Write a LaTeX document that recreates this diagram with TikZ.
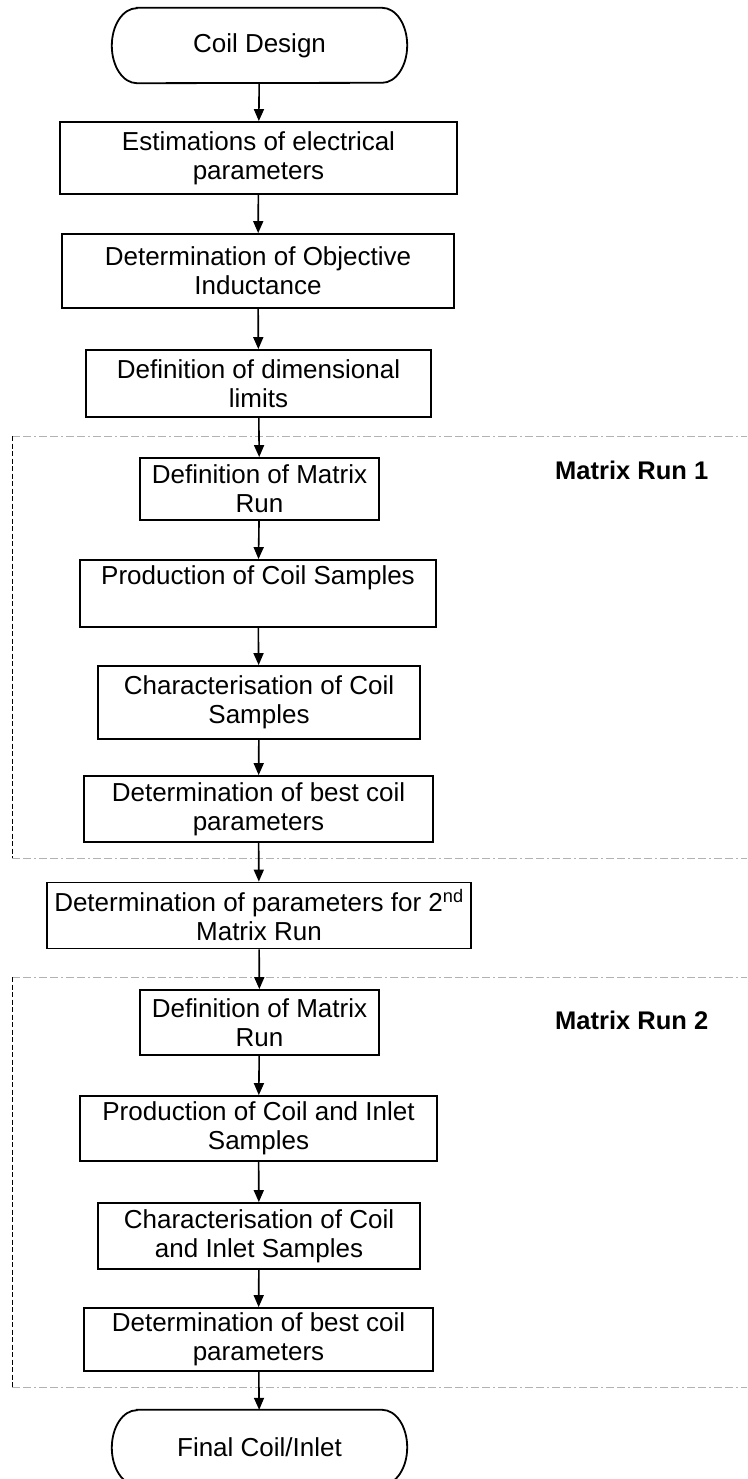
\documentclass[tikz,border=0pt]{standalone}
\usepackage{fontspec}
\setmainfont{Liberation Sans}
\usetikzlibrary{arrows.meta}
\tikzset{
  boxnode/.style={draw, line width=1.8pt, inner sep=0pt, align=center,
    font=\fontsize{26}{29}\selectfont},
  termnode/.style={inner sep=0pt, align=center, minimum width=295pt, minimum height=75pt,
    font=\fontsize{26}{29}\selectfont},
  termline/.style={line width=1.8pt},
  flow/.style={line width=1.6pt, -{Triangle[length=12pt,width=10pt]}},
  regionedge/.style={draw=black!30, line width=1pt, dash pattern=on 8pt off 3pt on 8pt off 3pt on 2pt off 3pt},
  regionside/.style={draw=black, line width=1pt, dash pattern=on 5pt off 2.5pt},
  runlabel/.style={anchor=west, inner sep=0pt, font=\fontsize{25.5}{29}\selectfont\bfseries}
}
\newcommand{\termshape}[1]{%
  \draw[termline] ([xshift=25pt]#1.north west) -- ([xshift=-25pt]#1.north east)
    arc[start angle=90, end angle=-90, x radius=25pt, y radius=37.5pt]
    -- ([xshift=25pt]#1.south west)
    arc[start angle=270, end angle=90, x radius=25pt, y radius=37.5pt] -- cycle;}
\begin{document}
\begin{tikzpicture}[x=1pt, y=-1pt]
\useasboundingbox (0,0) rectangle (747,1479);
\clip (0,0) rectangle (747,1479);

% regions
\coordinate (r1tl) at (12,436);
\coordinate (r1tr) at (747,436);
\coordinate (r1bl) at (12,858);
\coordinate (r1br) at (747,858);
\coordinate (r2tl) at (12,977);
\coordinate (r2tr) at (747,977);
\coordinate (r2bl) at (12,1387);
\coordinate (r2br) at (747,1387);
\draw[regionedge] (r1tl) -- (r1tr);
\draw[regionedge] (r1bl) -- (r1br);
\draw[regionside] (r1tl) -- (r1bl);
\draw[regionedge] (r2tl) -- (r2tr);
\draw[regionedge] (r2bl) -- (r2br);
\draw[regionside] (r2tl) -- (r2bl);

\node[runlabel] (lab1) at (555,470.5) {Matrix Run 1};
\node[runlabel] (lab2) at (555,1020) {Matrix Run 2};

% nodes
\node[termnode] (t1) at (259.5,45.5) {Coil Design};
\termshape{t1}
\node[boxnode, minimum width=397pt, minimum height=72pt] (b1) at (258.5,158) {Estimations of electrical\\parameters};
\node[boxnode, minimum width=392pt, minimum height=74pt] (b2) at (258,271) {Determination of Objective\\Inductance};
\node[boxnode, minimum width=345pt, minimum height=67pt] (b3) at (258.5,383.5) {Definition of dimensional\\limits};
\node[boxnode, minimum width=239pt, minimum height=62pt] (b4) at (259.5,489) {Definition of Matrix\\Run};
\node[boxnode, minimum width=356pt, minimum height=67pt] (b5) at (258,593.5) {Production of Coil Samples\\\strut};
\node[boxnode, minimum width=322pt, minimum height=73pt] (b6) at (259,702.5) {Characterisation of Coil\\Samples};
\node[boxnode, minimum width=349pt, minimum height=66pt] (b7) at (258.5,809) {Determination of best coil\\parameters};
\node[boxnode, minimum width=424pt, minimum height=66pt] (b8) at (259,915.5) {Determination of parameters for 2\textsuperscript{nd}\\Matrix Run};
\node[boxnode, minimum width=239pt, minimum height=65pt] (b9) at (259.5,1022.5) {Definition of Matrix\\Run};
\node[boxnode, minimum width=357pt, minimum height=65pt] (b10) at (258.5,1128.5) {Production of Coil and Inlet\\Samples};
\node[boxnode, minimum width=322pt, minimum height=66pt] (b11) at (259,1236) {Characterisation of Coil\\and Inlet Samples};
\node[boxnode, minimum width=349pt, minimum height=63pt] (b12) at (258.5,1339.5) {Determination of best coil\\parameters};
\node[termnode] (t2) at (259.5,1447.5) {Final Coil/Inlet};
\termshape{t2}

% connectors
\draw[flow] (t1) -- (b1);
\draw[flow] (b1) -- (b2);
\draw[flow] (b2) -- (b3);
\draw[flow] (b3) -- (b4);
\draw[flow] (b4) -- (b5);
\draw[flow] (b5) -- (b6);
\draw[flow] (b6) -- (b7);
\draw[flow] (b7) -- (b8);
\draw[flow] (b8) -- (b9);
\draw[flow] (b9) -- (b10);
\draw[flow] (b10) -- (b11);
\draw[flow] (b11) -- (b12);
\draw[flow] (b12) -- (t2);
\end{tikzpicture}
\end{document}
